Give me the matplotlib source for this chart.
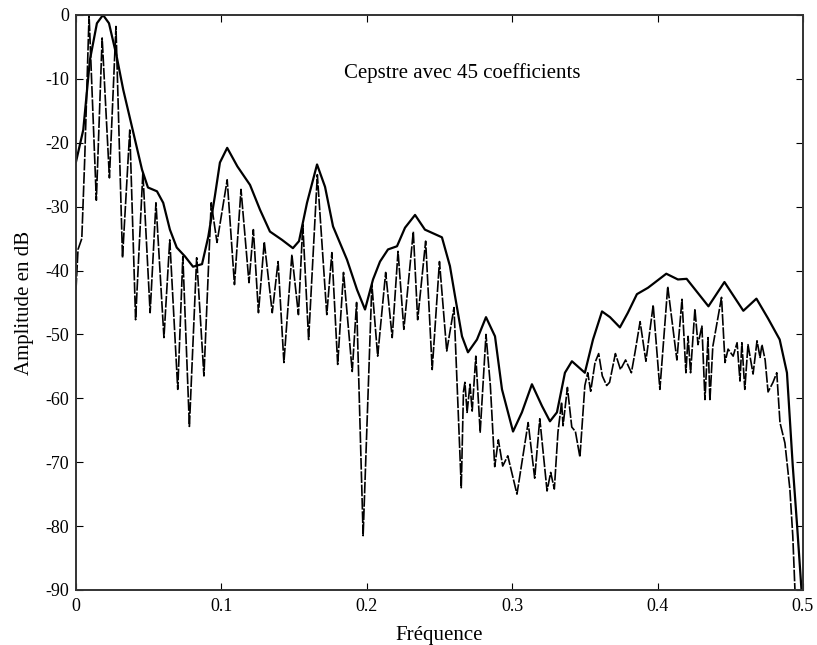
import matplotlib
matplotlib.use("Agg")
import matplotlib.pyplot as plt

plt.rcParams['font.family'] = ['Liberation Serif', 'DejaVu Serif']
plt.rcParams['axes.unicode_minus'] = False

# spectre (courbe en tirets)
spec_f = [0.0, 0.0014, 0.004, 0.006, 0.009, 0.014, 0.018, 0.023, 0.0275, 0.032,
          0.037, 0.041, 0.046, 0.051, 0.055, 0.0605, 0.0645, 0.070, 0.0735, 0.078,
          0.083, 0.088, 0.093, 0.097, 0.104, 0.109, 0.1135, 0.119, 0.122, 0.1255,
          0.1295, 0.135, 0.139, 0.143, 0.1485, 0.153, 0.156, 0.160, 0.166, 0.1725,
          0.176, 0.180, 0.184, 0.190, 0.193, 0.1975, 0.2035, 0.2075, 0.213, 0.2175,
          0.2215, 0.2255, 0.232, 0.235, 0.2405, 0.245, 0.250, 0.255, 0.260, 0.265,
          0.2665, 0.2675, 0.269, 0.271, 0.2725, 0.275, 0.278, 0.282, 0.285, 0.288,
          0.2905, 0.2935, 0.297, 0.3033, 0.311, 0.3155, 0.319, 0.324, 0.3265, 0.329,
          0.3315, 0.334, 0.335, 0.338, 0.341, 0.3435, 0.3466, 0.350, 0.352, 0.354,
          0.357, 0.3595, 0.362, 0.365, 0.367, 0.371, 0.3745, 0.378, 0.382, 0.3845,
          0.388, 0.392, 0.397, 0.4016, 0.407, 0.4133, 0.4168, 0.4195, 0.421, 0.4227,
          0.4257, 0.4278, 0.4305, 0.4326, 0.4347, 0.436, 0.438, 0.444, 0.4464, 0.4485,
          0.452, 0.4547, 0.4567, 0.458, 0.460, 0.4622, 0.4657, 0.4684, 0.4705, 0.4718,
          0.474, 0.476, 0.4794, 0.482, 0.4842, 0.4876, 0.491, 0.493, 0.4945, 0.4955]
spec_db = [-43, -36.7, -35, -22.6, 0, -29, -3.6, -25.5, -1.8, -38,
           -18, -47.7, -24.7, -46.6, -29.4, -50.5, -35.2, -58.6, -37.8, -64.4,
           -38, -56.5, -29.4, -35.6, -25.8, -42.2, -27.3, -41.9, -33.6, -46.6,
           -35.5, -46.6, -38.6, -54.4, -37.5, -46.9, -32.8, -50.8, -25, -46.9,
           -37.2, -54.7, -40.3, -55.8, -45, -81.5, -42.2, -53.4, -40.3, -50.5,
           -37, -49.2, -33.9, -47.7, -35.4, -55.5, -38.6, -52.6, -45.8, -74,
           -59, -57.5, -62.2, -57.8, -62, -53.4, -65.3, -50, -58, -70.7,
           -66.5, -70.6, -69, -75, -63.8, -72.5, -63.2, -74.5, -71.6, -74.2,
           -65.3, -60.6, -64.3, -58.3, -64.5, -65.2, -69.2, -58, -56, -58.9,
           -54.4, -53, -56.5, -58, -57.5, -53, -55.5, -54, -56, -52.8,
           -48, -54.2, -45.4, -58.6, -42.5, -54, -44.5, -56, -50.3, -56,
           -46, -51.6, -48.7, -60.2, -50.5, -60.4, -51.9, -44.2, -54.4, -52.3,
           -53.4, -51.3, -57.3, -51.3, -58.6, -51.6, -56.2, -51, -53.6, -51.6,
           -54, -59, -57.5, -56, -63.8, -67, -74.2, -81.5, -90, -95]

# enveloppe cepstrale (45 coefficients)
env_f = [0.0, 0.005, 0.0096, 0.0144, 0.0186, 0.0227, 0.028, 0.0325, 0.0385, 0.0454,
         0.0495, 0.0557, 0.06, 0.0646, 0.0693, 0.075, 0.0805, 0.0867, 0.091, 0.0955,
         0.099, 0.104, 0.111, 0.1197, 0.1266, 0.1334, 0.1417, 0.1492, 0.1534, 0.1589,
         0.1658, 0.1713, 0.1768, 0.1864, 0.1933, 0.1988, 0.2043, 0.2091, 0.2146, 0.2208,
         0.2263, 0.2332, 0.24, 0.2517, 0.2572, 0.2607, 0.2655, 0.2696, 0.2758, 0.282,
         0.2882, 0.293, 0.3006, 0.3067, 0.3136, 0.3205, 0.326, 0.3308, 0.3363, 0.3411,
         0.35, 0.3556, 0.3618, 0.3673, 0.3741, 0.3796, 0.3858, 0.3934, 0.398, 0.406,
         0.414, 0.420, 0.435, 0.446, 0.459, 0.468, 0.476, 0.484, 0.489, 0.493,
         0.496, 0.499, 0.5]
env_db = [-23, -18, -7, -1.3, 0, -1.3, -6.5, -11.7, -17.5, -24.2,
          -27, -27.6, -29.4, -33.6, -36.4, -37.8, -39.4, -39, -34.7, -28.4,
          -23.1, -20.8, -23.7, -26.6, -30.5, -33.9, -35.2, -36.5, -35.4, -29.4,
          -23.4, -26.9, -33.1, -38.3, -43, -46.1, -41.4, -38.6, -36.7, -36.2,
          -33.3, -31.3, -33.6, -34.8, -39.3, -44, -50.3, -52.8, -50.8, -47.3,
          -50.3, -58.6, -65.2, -62.2, -57.8, -61.2, -63.6, -62.2, -56, -54.2,
          -56, -50.8, -46.4, -47.3, -48.9, -46.6, -43.7, -42.7, -41.9, -40.5,
          -41.4, -41.3, -45.6, -41.8, -46.3, -44.4, -47.5, -50.8, -56, -70.6,
          -80, -90, -98]

fig = plt.figure(figsize=(8.17, 6.45), dpi=100)
ax = fig.add_axes([0.093, 0.0853, 0.8898, 0.8915])

ax.plot(spec_f, spec_db, color='black', lw=1.2, linestyle=(0, (7, 1)))
ax.plot(env_f, env_db, color='black', lw=1.6)

ax.set_xlim(0, 0.5)
ax.set_ylim(-90, 0)
ax.set_xticks([0, 0.1, 0.2, 0.3, 0.4, 0.5])
ax.set_xticklabels(['0', '0.1', '0.2', '0.3', '0.4', '0.5'])
ax.set_yticks(range(-90, 1, 10))
ax.tick_params(direction='in', top=True, right=True, length=5, labelsize=13)
ax.tick_params(axis='x', pad=6)
ax.tick_params(axis='y', pad=5)
for s in ax.spines.values():
    s.set_linewidth(1.4)
    s.set_color('#333333')

ax.set_xlabel('Fréquence', fontsize=15, labelpad=8)
ax.set_ylabel('Amplitude en dB', fontsize=15, labelpad=8)
ax.text(0.2655, -9.1, 'Cepstre avec 45 coefficients', fontsize=15,
        ha='center', va='center')

fig.savefig('out.png', dpi=100)
